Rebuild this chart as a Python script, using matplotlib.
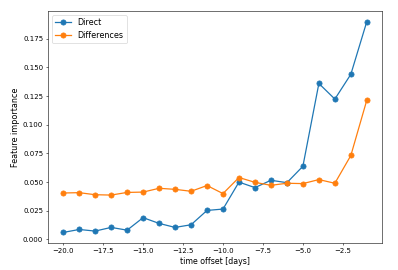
import matplotlib
matplotlib.use("Agg")
import matplotlib.pyplot as plt

offsets = list(range(-20, 0))
direct = [0.0061, 0.0087, 0.0073, 0.0105, 0.0081, 0.019, 0.014, 0.0105, 0.0128,
          0.0253, 0.0265, 0.050, 0.0452, 0.0516, 0.0495, 0.0638, 0.136, 0.1224, 0.144, 0.190]
differences = [0.0405, 0.0408, 0.039, 0.0387, 0.041, 0.0413, 0.0446, 0.0437, 0.042,
               0.047, 0.040, 0.054, 0.0498, 0.0472, 0.049, 0.0487, 0.0522, 0.049, 0.0732, 0.1215]

fig = plt.figure(figsize=(7.96, 5.4), dpi=50)
ax = fig.add_axes([48/398, 1 - 243/270, (382-48)/398, (243-11)/270])
ax.plot(offsets, direct, marker='o', markersize=7.5, linewidth=1.8, label='Direct')
ax.plot(offsets, differences, marker='o', markersize=7.5, linewidth=1.8, label='Differences')
ax.set_xlabel('time offset [days]', fontsize=11.3)
ax.set_ylabel('Feature importance', fontsize=11.5)
ax.tick_params(labelsize=10)
ax.legend(loc='upper left', fontsize=11.5)
fig.savefig('out.png', dpi=50)
